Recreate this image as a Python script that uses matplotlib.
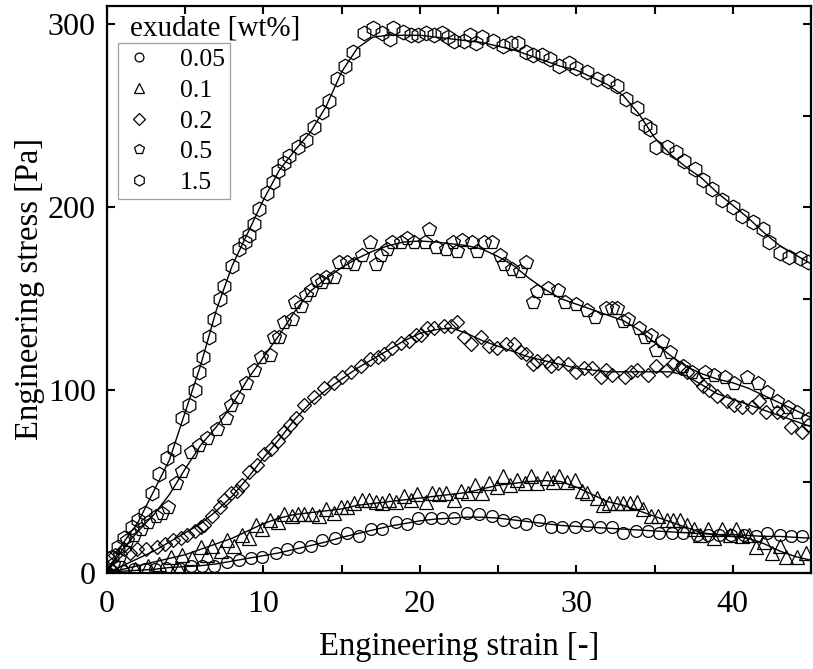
import matplotlib
matplotlib.use("Agg")
import matplotlib.pyplot as plt
from matplotlib.ticker import MultipleLocator

plt.rcParams['font.family'] = ['Liberation Serif', 'DejaVu Serif']
plt.rcParams['mathtext.fontset'] = 'stix'

# measured points (strain, stress) for each exudate content
circ_x = [0.3, 1.0, 1.7, 2.4, 3.1, 3.8, 4.6, 5.4, 6.1, 6.85, 7.7, 8.45, 9.2, 9.9, 10.8, 11.5, 12.3, 13.05,
          13.75, 14.6, 15.35, 16.1, 16.85, 17.6, 18.5, 19.2, 19.9, 20.7, 21.4, 22.2, 23.0, 23.8, 24.6, 25.3,
          26.1, 26.8, 27.6, 28.4, 29.1, 29.9, 30.65, 31.5, 32.25, 33.0, 33.8, 34.55, 35.3, 36.1, 36.8, 37.7,
          38.4, 39.1, 39.9, 40.7, 41.5, 42.2, 43.0, 43.7, 44.45]
circ_y = [1, 1, 2, 2, 2, 3, 3, 4, 4, 4, 6, 7, 8, 9, 11, 13, 14, 15,
          18, 19, 22, 20, 24, 24, 28, 27, 30, 30, 30, 30, 33, 32, 31, 29,
          28, 27, 29, 25, 25, 25, 26, 25, 25, 22, 23, 23, 22, 22, 22, 21,
          21, 21, 21, 21, 20, 22, 21, 20, 20]

tri_x = [0.3, 1.1, 1.8, 2.6, 3.35, 4.1, 4.6, 4.8, 5.45, 6.0, 6.4, 6.7, 7.3, 7.7, 8.1, 8.6, 9.1, 9.5, 9.9,
         10.4, 10.9, 11.3, 11.8, 12.2, 12.6, 13.1, 13.55, 14.0, 14.5, 14.95, 15.35, 15.8, 16.3, 16.75,
         17.2, 17.6, 18.0, 18.5, 19.0, 19.4, 19.8, 20.4, 20.8, 21.2, 21.7, 22.2, 22.6, 23.1, 23.5, 23.95,
         24.4, 24.9, 25.3, 25.75, 26.2, 26.7, 27.1, 27.5, 28.1, 28.5, 28.9, 29.4, 29.9, 30.35, 30.7, 31.3,
         31.7, 32.1, 32.6, 33.0, 33.4, 33.85, 34.25, 34.8, 35.2, 35.8, 36.2, 36.6, 37.1, 37.55, 37.9, 38.4,
         38.8, 39.3, 39.8, 40.2, 40.6, 41.05, 41.5, 42.0, 42.5, 43.0, 43.4, 44.1, 44.7]
tri_y = [3, 3, 2, 4, 5, 9, 2, 10, 8, 14, 10, 15, 12, 18, 15, 21, 19, 26, 24,
         29, 28, 32, 31, 32, 32, 32, 31, 35, 33, 36, 36, 38, 40, 40,
         39, 38, 40, 39, 42, 40, 43, 39, 44, 43, 44, 40, 45, 44, 48, 44,
         49, 47, 53, 48, 51, 49, 53, 49, 52, 50, 53, 50, 51, 45, 44, 41,
         37, 38, 38, 38, 38, 39, 35, 31, 31, 29, 29, 29, 26, 24, 21, 24,
         19, 24, 21, 24, 20, 21, 14, 17, 11, 15, 9, 9, 11]

dia_x = [0.0, 0.15, 0.5, 1.1, 1.5, 1.9, 2.5, 3.2, 3.7, 4.2, 4.75, 5.1, 5.6, 6.0, 6.2, 6.7, 7.2, 7.5, 7.9,
         8.3, 8.6, 9.1, 9.6, 10.05, 10.5, 10.9, 11.3, 11.7, 12.1, 12.6, 13.25, 13.9, 14.5, 15.0, 15.6,
         16.25, 16.8, 17.3, 17.7, 18.2, 18.8, 19.3, 19.75, 20.1, 20.45, 20.9, 21.55, 22.0, 22.4, 22.8,
         23.25, 23.9, 24.4, 24.9, 25.5, 26.0, 26.45, 26.8, 27.2, 27.5, 28.1, 28.4, 28.8, 29.45, 30.0,
         30.5, 31.0, 31.6, 31.9, 32.3, 33.1, 33.5, 33.9, 34.6, 35.1, 35.8, 36.2, 36.7, 37.1, 37.7, 38.1,
         38.5, 39.0, 39.6, 40.1, 40.6, 41.2, 41.7, 42.1, 42.8, 43.2, 43.7, 44.4, 44.8]
dia_y = [0, 8, 10, 13, 11, 13, 13, 14, 16, 18, 19, 21, 23, 25, 26, 31, 36, 40, 44,
         45, 48, 55, 59, 65, 68, 72, 77, 81, 85, 92, 96, 101, 104, 107, 110,
         113, 117, 118, 120, 123, 126, 127, 130, 130, 134, 134, 135, 135, 137, 129,
         125, 129, 124, 123, 125, 125, 121, 120, 114, 116, 116, 113, 115, 114, 110,
         112, 112, 107, 111, 108, 107, 110, 111, 108, 113, 111, 114, 112, 110, 106, 102,
         100, 97, 94, 92, 91, 91, 94, 88, 88, 88, 80, 77, 81]

pent_x = [0.0, 0.4, 0.8, 1.25, 1.75, 2.2, 2.6, 3.15, 3.5, 3.9, 4.4, 4.8, 5.4, 5.9, 6.4, 7.0, 7.6, 7.9, 8.3,
          8.9, 9.4, 9.85, 10.4, 10.7, 11.0, 11.3, 11.8, 12.0, 12.4, 12.75, 13.05, 13.4, 13.75, 14.0, 14.5,
          14.8, 15.35, 15.8, 16.3, 16.8, 17.2, 17.5, 17.9, 18.2, 18.8, 19.2, 19.6, 20.3, 20.6, 21.0, 21.7,
          22.1, 22.4, 22.7, 23.3, 23.65, 24.1, 24.6, 25.1, 25.4, 25.9, 26.4, 26.8, 27.2, 27.5, 28.2, 28.8,
          29.3, 30.0, 30.7, 31.2, 31.9, 32.3, 32.6, 33.0, 33.3, 34.0, 34.4, 34.8, 35.1, 35.5, 36.0, 36.8,
          37.4, 38.2, 38.8, 39.5, 40.1, 40.9, 41.6, 42.2, 42.8, 43.5, 44.1, 44.8]
pent_y = [0, 5, 10, 18, 21, 24, 28, 31, 33, 36, 49, 56, 66, 70, 74, 79, 85, 92, 96,
          104, 111, 118, 119, 129, 129, 137, 139, 148, 146, 152, 155, 160, 159, 162, 162,
          170, 170, 169, 174, 181, 169, 174, 177, 181, 181, 183, 181, 181, 188, 178, 177,
          181, 176, 182, 181, 176, 181, 181, 174, 169, 166, 165, 170, 148, 154, 156, 155,
          148, 147, 144, 140, 145, 145, 145, 138, 139, 134, 129, 130, 122, 127, 121, 113,
          110, 110, 108, 107, 104, 107, 104, 99, 94, 91, 88, 84]

hex_x = [0.0, 0.3, 0.7, 1.1, 1.6, 2.0, 2.4, 2.9, 3.35, 3.85, 4.3, 4.8, 5.25, 5.6, 5.9, 6.15, 6.55, 6.85,
         7.2, 7.5, 8.0, 8.45, 8.8, 9.1, 9.4, 9.7, 10.25, 10.6, 10.9, 11.3, 11.65, 12.2, 12.7, 13.25,
         13.75, 14.2, 14.7, 15.2, 15.7, 16.4, 17.0, 17.6, 18.1, 18.3, 18.9, 19.4, 19.9, 20.4, 20.9,
         21.4, 21.8, 22.2, 22.8, 23.2, 23.6, 24.0, 24.7, 25.3, 25.8, 26.3, 26.8, 27.2, 27.8, 28.3,
         28.9, 29.5, 30.0, 30.7, 31.3, 32.0, 32.6, 33.2, 33.9, 34.4, 34.7, 35.1, 35.8, 36.4, 36.9,
         37.6, 38.1, 38.7, 39.3, 40.0, 40.6, 41.3, 41.9, 42.3, 43.0, 43.6, 44.3, 44.8]
hex_y = [0, 9, 14, 19, 25, 29, 33, 44, 54, 63, 68, 85, 92, 100, 110, 118, 129, 139,
         150, 157, 168, 177, 181, 185, 191, 199, 208, 214, 220, 224, 228, 233, 237, 244,
         252, 258, 270, 277, 285, 295, 298, 295, 292, 298, 296, 294, 294, 295, 294,
         295, 293, 291, 291, 294, 290, 293, 291, 288, 290, 290, 285, 283, 283, 281,
         277, 279, 276, 274, 270, 269, 266, 259, 254, 245, 243, 233, 233, 230, 225,
         221, 215, 210, 204, 200, 195, 192, 188, 181, 175, 173, 172, 170]

# smooth fitted curves, read at integer strain
fit_x = [0, 1, 2, 3, 4, 5, 6, 7, 8, 9, 10, 11, 12, 13, 14, 15, 16, 17, 18, 19, 20, 21, 22,
         23, 24, 25, 26, 27, 28, 29, 30, 31, 32, 33, 34, 35, 36, 37, 38, 39, 40, 41, 42, 43, 44, 45]
circ_fit = [0, 1, 1.5, 2, 3, 3.5, 4, 5, 6.5, 8, 9.5, 11, 13, 15, 17, 19.5, 21.5, 23.5, 25.5, 27, 28.5,
            29.5, 30, 30.5, 30.5, 30, 29, 28, 27, 26, 25.5, 25, 24.5, 24, 23.5, 23, 22.5, 22, 21.5, 21,
            21, 20.5, 20, 20, 19.5, 19]
tri_fit = [0, 2, 4, 6, 8, 10, 13, 16, 19, 23, 27, 30, 32, 33, 34, 35, 37, 38, 39, 40, 41, 42, 43,
           44, 46, 48, 49, 50, 50.5, 50, 47, 43, 39, 37, 34, 31, 28, 25, 22, 21, 20, 19, 16, 12, 9, 7]
dia_fit = [0, 4, 8, 12, 17, 22, 27, 34, 42, 52, 63, 73, 84, 93, 100, 106, 112, 117, 122, 127, 131,
           133, 134, 131, 127, 124, 121, 118, 116, 114, 112, 111, 110, 110, 110, 110, 110, 108, 103,
           98, 95, 92, 89, 86, 83, 80]
pent_fit = [0, 13, 23, 32, 43, 57, 70, 80, 92, 106, 118, 130, 143, 154, 161, 167, 172, 176, 179, 181,
            181.5, 181, 180, 179, 177, 173, 168, 161, 155, 150, 147, 144, 141, 138, 133, 126, 119, 113,
            109, 106, 104, 101, 97, 93, 89, 85]
hex_fit = [0, 16, 28, 45, 62, 88, 114, 144, 168, 186, 204, 220, 231, 241, 255, 274, 287, 293, 294,
           294, 294, 293, 292, 291, 290, 288, 286, 283, 280, 277, 275, 271, 267, 261, 251, 238, 229,
           222, 216, 208, 201, 194, 186, 179, 174, 169]

labels = ['0.05', '0.1', '0.2', '0.5', '1.5']

series = [
    (circ_x, circ_y, circ_fit, 'o', 8.5),
    (tri_x, tri_y, tri_fit, '^', 10),
    (dia_x, dia_y, dia_fit, 'D', 7.5),
    (pent_x, pent_y, pent_fit, 'p', 10),
    (hex_x, hex_y, hex_fit, 'h', 10.5),
]

fig = plt.figure(figsize=(8.13, 6.69), dpi=100)
ax = fig.add_axes([107 / 813, 96 / 669, 704 / 813, 567 / 669])

handles = []
for (xs, ys, yf, mk, ms), lab in zip(series, labels):
    ax.plot(fit_x, yf, color='black', lw=1.0, zorder=2)
    ax.plot(xs, ys, linestyle='none', marker=mk, ms=ms, mfc='none', mec='black', mew=0.9,
            zorder=3, clip_on=True)
    h, = ax.plot([], [], linestyle='none', marker=mk, ms=ms * 0.75, mfc='none', mec='black', mew=0.9,
                 label=lab)
    handles.append(h)

ax.set_xlim(0, 45)
ax.set_ylim(0, 310)
ax.xaxis.set_major_locator(MultipleLocator(10))
ax.xaxis.set_minor_locator(MultipleLocator(5))
ax.yaxis.set_major_locator(MultipleLocator(100))
ax.yaxis.set_minor_locator(MultipleLocator(50))
ax.tick_params(which='both', direction='in', top=True, right=True, length=6, width=1.5,
               labelsize=23)
ax.tick_params(which='minor', left=False)
ax.tick_params(axis='x', pad=12)
ax.tick_params(axis='y', pad=8)
for sp in ax.spines.values():
    sp.set_linewidth(1.6)

ax.set_xlabel('Engineering strain [-]', fontsize=23.5, labelpad=9)
ax.set_ylabel('Engineering stress [Pa]', fontsize=23.5, labelpad=2)

leg = ax.legend(handles=handles, loc='upper left', bbox_to_anchor=(118 / 813, 1 - 43 / 669),
                bbox_transform=fig.transFigure, borderaxespad=0, fontsize=18.5, frameon=True,
                fancybox=False, edgecolor='#888888', handlelength=1.2, handletextpad=1.0,
                labelspacing=0.3, borderpad=0.2)
leg.get_frame().set_linewidth(0.9)
fig.text(130 / 813, 1 - 28 / 669, 'exudate [wt%]', fontsize=21, va='center', ha='left')

fig.savefig('out.png', dpi=100)
